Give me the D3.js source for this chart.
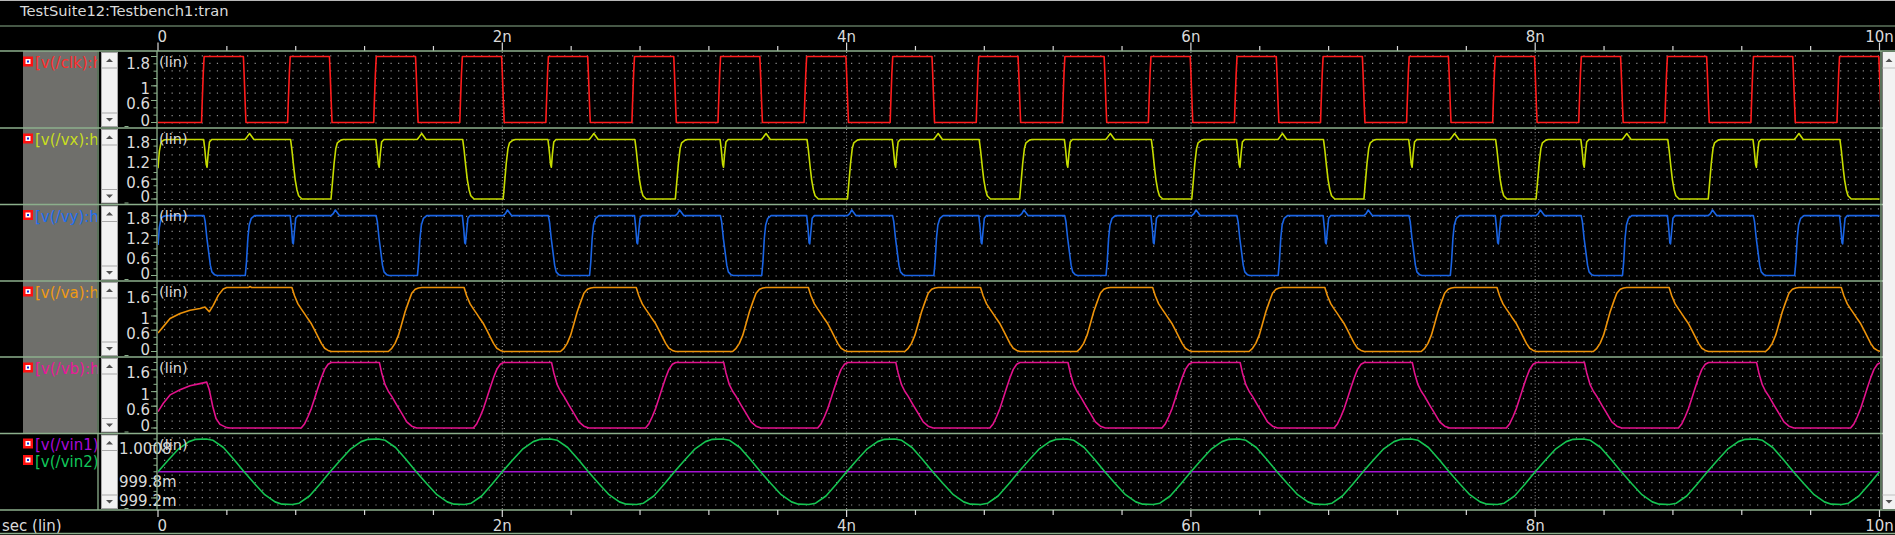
<!DOCTYPE html>
<html><head><meta charset="utf-8">
<script src="https://cdn.jsdelivr.net/npm/d3@7"></script>
<style>
html,body{margin:0;padding:0;background:#000;overflow:hidden;}
svg{display:block;}
text{font-family:"DejaVu Sans",sans-serif;}
</style></head><body>
<svg id="c" width="1895" height="535"></svg>
<script>
// ================= DATA =================
const titleText = "TestSuite12:Testbench1:tran";
const xAxisTitle = "sec (lin)";
const timeTicks = [0,0.4,0.8,1.2,1.6,2,2.4,2.8,3.2,3.6,4,4.4,4.8,5.2,5.6,6,6.4,6.8,7.2,7.6,8,8.4,8.8,9.2,9.6,10];
const timeLabelValues = [0,2,4,6,8,10];
const timeLabelTexts = ["0","2n","4n","6n","8n","10n"];
const timeGridMajor = [2,4,6,8];

// clk : period 0.5 ns  (time in ns, value in V)
const clkInit = [[0,0]];
const clkCycle = [[0.253,0],[0.256,0.45],[0.263,1.35],[0.268,1.8],[0.496,1.8],[0.500,1.35],[0.507,0.45],[0.511,0]];
const clkStarts = [0,0.5,1,1.5,2,2.5,3,3.5,4,4.5,5,5.5,6,6.5,7,7.5,8,8.5,9,9.5];
const clkTail = [];

// vx : period 1 ns
const vxInit = [[0,0.93],[0.008,1.45],[0.018,1.72],[0.035,1.79],[0.08,1.80]];
const vxCycle = [[0.005,0],[0.013,0.48],[0.023,1.08],[0.033,1.53],[0.042,1.70],[0.062,1.78],[0.077,1.80],
  [0.265,1.80],[0.272,1.50],[0.280,1.05],[0.285,0.96],[0.291,1.35],[0.299,1.72],[0.312,1.80],
  [0.505,1.80],[0.512,1.84],[0.532,1.98],[0.557,1.80],
  [0.770,1.80],[0.778,1.48],[0.788,0.98],[0.797,0.58],[0.807,0.28],[0.817,0.10],[0.836,0]];
const vxStarts = [0,1,2,3,4,5,6,7,8,9];
const vxTail = [[10,0]];

// vy : period 1 ns
const vyInit = [[0,0.92],[0.008,1.45],[0.018,1.72],[0.035,1.79],[0.06,1.80]];
const vyCycle = [[0.005,1.80],[0.018,1.86],[0.030,1.97],[0.055,1.80],
  [0.267,1.80],[0.274,1.62],[0.284,1.12],[0.294,0.72],[0.304,0.31],[0.313,0.11],[0.329,0.02],[0.342,0],
  [0.507,0],[0.514,0.41],[0.522,1.12],[0.530,1.52],[0.542,1.72],[0.561,1.80],
  [0.768,1.80],[0.776,1.40],[0.782,0.98],[0.786,0.95],[0.792,1.30],[0.800,1.72],[0.812,1.80]];
const vyStarts = [0,1,2,3,4,5,6,7,8,9];
const vyTail = [[10,1.80]];

// va : period 1 ns
const vaInit = [[0,0.52],[0.031,0.70],[0.070,0.93],[0.128,1.07],[0.186,1.16],[0.244,1.21],[0.273,1.25],
  [0.298,1.12],[0.321,1.30],[0.350,1.58],[0.379,1.76],[0.399,1.80],[0.525,1.80],[0.535,1.83],[0.545,1.80],[0.56,1.80]];
const vaCycle = [[0.007,0],[0.338,0],[0.358,0.09],[0.377,0.23],[0.397,0.46],[0.416,0.78],[0.435,1.11],[0.455,1.39],
  [0.474,1.64],[0.494,1.75],[0.513,1.79],[0.532,1.80],
  [0.778,1.80],[0.793,1.57],[0.813,1.34],[0.832,1.20],[0.852,1.06],[0.871,0.92],[0.891,0.78],[0.910,0.60],
  [0.929,0.42],[0.949,0.23],[0.968,0.09],[0.988,0.03],[1.007,0]];
const vaStarts = [0,1,2,3,4,5,6,7,8,9];
const vaTail = [];

// vb : period 1 ns
const vbInit = [[0,0.45],[0.031,0.68],[0.070,0.91],[0.128,1.05],[0.186,1.16],[0.244,1.22],[0.283,1.26],
  [0.298,1.05],[0.318,0.59],[0.337,0.26],[0.360,0.10],[0.399,0.01],[0.42,0]];
const vbCycle = [[0.832,0],[0.852,0.12],[0.871,0.31],[0.891,0.54],[0.910,0.82],[0.929,1.10],[0.949,1.38],[0.968,1.61],
  [0.988,1.75],[1.007,1.80],[1.286,1.80],[1.299,1.52],[1.319,1.19],[1.338,1.01],[1.358,0.87],[1.387,0.63],
  [1.416,0.40],[1.445,0.17],[1.474,0.05],[1.503,0]];
const vbStarts = [0,1,2,3,4,5,6,7,8,9];
const vbTail = [];

// vin1 : flat at 1 V
const vin1Points = [[0,1.0],[10,1.0]];
// vin2 : period 1 ns around 1 V (values in V)
const vin2Init = [];
const vin2Cycle = [[0,1.0],[0.06,1.00036],[0.12,1.00070],[0.18,1.00092],[0.22,1.00099],[0.28,1.00100],[0.32,1.00096],
  [0.38,1.00074],[0.44,1.00038],[0.5,1.0],[0.56,0.99964],[0.62,0.99930],[0.68,0.99908],[0.72,0.99901],
  [0.78,0.99900],[0.82,0.99904],[0.88,0.99926],[0.94,0.99962]];
const vin2Starts = [0,1,2,3,4,5,6,7,8,9];
const vin2Tail = [[10,1.0]];

// y tick labels per panel
const clkTickValues = [1.8,1,0.6,0];      const clkTickTexts = ["1.8","1","0.6","0"];
const vxTickValues = [1.8,1.2,0.6,0];     const vxTickTexts = ["1.8","1.2","0.6","0"];
const vyTickValues = [1.8,1.2,0.6,0];     const vyTickTexts = ["1.8","1.2","0.6","0"];
const vaTickValues = [1.6,1,0.6,0];       const vaTickTexts = ["1.6","1","0.6","0"];
const vbTickValues = [1.6,1,0.6,0];       const vbTickTexts = ["1.6","1","0.6","0"];
const vinTickValues = [1.0008,0.9998,0.9992]; const vinTickTexts = ["1.0008","999.8m","999.2m"];

// ================= BUILD =================
function build(init, cycle, starts, tail){
  const pts = init.slice();
  const tLast = init.length ? init[init.length-1][0] : -1;
  starts.forEach(c => cycle.forEach(p => { const t = +(c + p[0]).toFixed(4); if (t > tLast) pts.push([t, p[1]]); }));
  return pts.concat(tail);
}

const W = 1895, H = 535;
const GREEN = "#8caf8c", TXT = "#dadada", DOT = "#8e8e8e";
const bounds = [51,128,204.5,281,357,433.5,510];

const panels = [
  {gray:true, ticks:clkTickValues, tickTexts:clkTickTexts, series:[{label:"[v(/clk):h]", color:"#ff1c1c", lcolor:"#ff2d2d", data:build(clkInit,clkCycle,clkStarts,clkTail)}]},
  {gray:true, ticks:vxTickValues, tickTexts:vxTickTexts, series:[{label:"[v(/vx):h]", color:"#c6dc00", lcolor:"#c8de1e", data:build(vxInit,vxCycle,vxStarts,vxTail)}]},
  {gray:true, ticks:vyTickValues, tickTexts:vyTickTexts, series:[{label:"[v(/vy):h]", color:"#1a64e4", lcolor:"#1e6ef0", data:build(vyInit,vyCycle,vyStarts,vyTail)}]},
  {gray:true, ticks:vaTickValues, tickTexts:vaTickTexts, series:[{label:"[v(/va):h]", color:"#ec920a", lcolor:"#f09a14", data:build(vaInit,vaCycle,vaStarts,vaTail)}]},
  {gray:true, ticks:vbTickValues, tickTexts:vbTickTexts, series:[{label:"[v(/vb):h]", color:"#e2128c", lcolor:"#e8189a", data:build(vbInit,vbCycle,vbStarts,vbTail)}]},
  {gray:false, leftLabels:true, ticks:vinTickValues, tickTexts:vinTickTexts, series:[
     {label:"[v(/vin1):h]", color:"#a412d2", lcolor:"#a80ad8", data:vin1Points},
     {label:"[v(/vin2):h]", color:"#16c452", lcolor:"#10c85a", data:build(vin2Init,vin2Cycle,vin2Starts,vin2Tail)}]}
];

const svg = d3.select("#c");
svg.append("rect").attr("width",W).attr("height",H).attr("fill","#000");
const defs = svg.append("defs");
defs.append("clipPath").attr("id","labclip").append("rect").attr("x",0).attr("y",0).attr("width",97.5).attr("height",H);

const x = d3.scaleLinear().domain([0,10]).range([158,1879.5]);

// top border + title
svg.append("line").attr("x1",0).attr("x2",W).attr("y1",0.5).attr("y2",0.5).attr("stroke","#b8b8b8");
svg.append("text").attr("x",20).attr("y",16).attr("font-size",14.7).attr("fill",TXT).text(titleText);
svg.append("line").attr("x1",0).attr("x2",W).attr("y1",26).attr("y2",26).attr("stroke",GREEN);

// top axis
const topAx = svg.append("g");
timeTicks.forEach(t => {
  const major = timeLabelValues.includes(t);
  topAx.append("line").attr("x1",x(t)).attr("x2",x(t)).attr("y1",major?42.5:46).attr("y2",51).attr("stroke","#d8d8d8").attr("stroke-width",1.2);
});
timeLabelValues.forEach((t,i) => {
  topAx.append("text").attr("x", i===0 ? x(t)-0.5 : x(t)).attr("y",41.5).attr("font-size",15).attr("fill",TXT)
    .attr("text-anchor", i===0 ? "start":"middle").text(timeLabelTexts[i]);
});

panels.forEach((p,pi) => {
  const top = bounds[pi], bot = bounds[pi+1];
  const g = svg.append("g");
  if (p.gray) g.append("rect").attr("x",23).attr("y",top).attr("width",74).attr("height",bot-top).attr("fill","#6f6f6b");
  const allV = p.series.flatMap(s => s.data.map(d => d[1]));
  const y = d3.scaleLinear().domain(d3.extent(allV)).range([bot-5.5, top+5.5]);

  // grid dots (rows)
  for (let yy = bot-5; yy > top+3; yy -= 7.45) {
    g.append("line").attr("x1",164).attr("x2",1879).attr("y1",yy).attr("y2",yy)
      .attr("stroke",DOT).attr("stroke-width",1.2).attr("stroke-dasharray","1.2,6.35");
  }
  // major vertical dotted grid
  timeGridMajor.forEach(t => g.append("line").attr("x1",x(t)).attr("x2",x(t)).attr("y1",top+1).attr("y2",bot-1)
      .attr("stroke","#a0a0a0").attr("stroke-width",1).attr("stroke-dasharray","1,2.2"));

  // y ticks
  y.ticks(10).forEach(v => g.append("line").attr("x1",153.5).attr("x2",157).attr("y1",y(v)).attr("y2",y(v)).attr("stroke",GREEN));
  p.ticks.forEach((v,i) => {
    g.append("line").attr("x1",151).attr("x2",157).attr("y1",y(v)).attr("y2",y(v)).attr("stroke",GREEN);
    const cy = Math.max(top+12.3, Math.min(bot-7.8, y(v)+3));
    g.append("text").attr("x", p.leftLabels ? 119 : 150).attr("y", cy+5.4).attr("font-size",15).attr("fill",TXT)
      .attr("text-anchor", p.leftLabels ? "start":"end").text(p.tickTexts[i]);
  });

  // traces
  const cid = "clip"+pi;
  defs.append("clipPath").attr("id",cid).append("rect").attr("x",158).attr("y",top).attr("width",x(10)-158+0.5).attr("height",bot-top);
  const line = d3.line().x(d => x(d[0])).y(d => y(d[1]));
  p.series.forEach(s => g.append("path").attr("d",line(s.data)).attr("fill","none").attr("stroke",s.color)
      .attr("stroke-width",1.6).attr("stroke-linejoin","round").attr("clip-path","url(#"+cid+")"));

  // (lin)
  g.append("text").attr("x",159).attr("y",top+16).attr("font-size",14.5).attr("fill",TXT).text("(lin)");

  // labels with icons
  p.series.forEach((s,si) => {
    const base = p.series.length > 1 ? top + 16.5 + si*16.5 : top + 17;
    const iy = base - 11.5;
    g.append("rect").attr("x",23).attr("y",iy).attr("width",10).attr("height",10).attr("fill","#ff1010");
    g.append("rect").attr("x",25.5).attr("y",iy+2.5).attr("width",5).attr("height",5).attr("fill","#ffffff");
    g.append("rect").attr("x",27).attr("y",iy+4).attr("width",2).attr("height",2).attr("fill","#1030e0");
    g.append("text").attr("x",35).attr("y",base).attr("font-size",15).attr("fill",s.lcolor)
      .attr("clip-path","url(#labclip)").text(s.label);
  });

  // left scroll widget
  const sx = 101.5, sw = 16;
  g.append("rect").attr("x",sx).attr("y",top+1.5).attr("width",sw).attr("height",bot-top-3).attr("fill","#f2f2f2").attr("stroke","#a8a8a8");
  g.append("line").attr("x1",sx).attr("x2",sx+sw).attr("y1",top+17).attr("y2",top+17).attr("stroke","#a8a8a8");
  g.append("line").attr("x1",sx).attr("x2",sx+sw).attr("y1",bot-15).attr("y2",bot-15).attr("stroke","#a8a8a8");
  g.append("path").attr("d",`M${sx+4.5},${top+11} L${sx+11.5},${top+11} L${sx+8},${top+7.5} Z`).attr("fill","#505050");
  g.append("path").attr("d",`M${sx+4.5},${bot-10} L${sx+11.5},${bot-10} L${sx+8},${bot-6.5} Z`).attr("fill","#505050");
  g.append("line").attr("x1",124.5).attr("x2",128.5).attr("y1",bot-1.5).attr("y2",bot-1.5).attr("stroke",GREEN);
});

// separators
bounds.forEach(b => svg.append("line").attr("x1",0).attr("x2",W).attr("y1",b).attr("y2",b).attr("stroke",GREEN).attr("stroke-width",1.3));
// vertical lines
[98,157,1881].forEach(xx => svg.append("line").attr("x1",xx).attr("x2",xx).attr("y1",51).attr("y2",510).attr("stroke",GREEN).attr("stroke-width",1.3));

// right scrollbar
svg.append("rect").attr("x",1882.5).attr("y",52).attr("width",12.5).attr("height",457).attr("fill","#f2f2f2");
svg.append("line").attr("x1",1882.5).attr("x2",W).attr("y1",68).attr("y2",68).attr("stroke","#c0c0c0");
svg.append("line").attr("x1",1882.5).attr("x2",W).attr("y1",495).attr("y2",495).attr("stroke","#c0c0c0");
svg.append("path").attr("d","M1885.5,62 L1892.5,62 L1889,58.5 Z").attr("fill","#505050");
svg.append("path").attr("d","M1885.5,500 L1892.5,500 L1889,503.5 Z").attr("fill","#505050");

// bottom axis
const botAx = svg.append("g");
timeTicks.forEach(t => {
  const major = timeLabelValues.includes(t);
  botAx.append("line").attr("x1",x(t)).attr("x2",x(t)).attr("y1",510).attr("y2",major?517:515).attr("stroke","#d8d8d8").attr("stroke-width",1.2);
});
timeLabelValues.forEach((t,i) => {
  botAx.append("text").attr("x", i===0 ? x(t)-0.5 : x(t)).attr("y",531).attr("font-size",15).attr("fill",TXT)
    .attr("text-anchor", i===0 ? "start":"middle").text(timeLabelTexts[i]);
});
botAx.append("text").attr("x",2).attr("y",531).attr("font-size",15).attr("fill",TXT).text(xAxisTitle);
svg.append("line").attr("x1",0).attr("x2",W).attr("y1",533.5).attr("y2",533.5).attr("stroke",GREEN).attr("stroke-width",1.3);
</script>
</body></html>
